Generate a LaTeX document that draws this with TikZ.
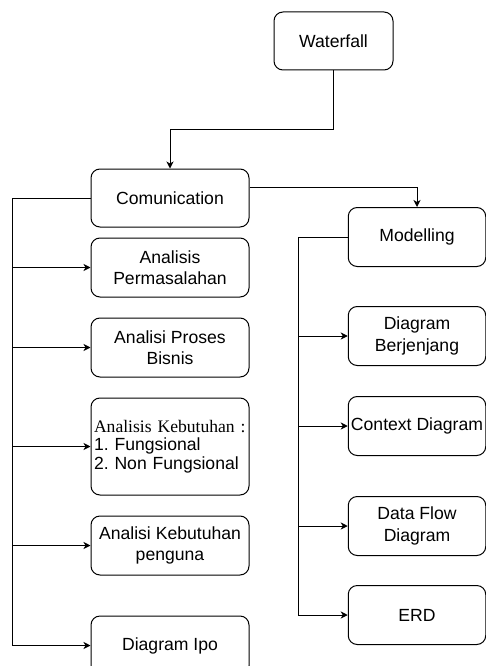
\documentclass[tikz,border=0pt]{standalone}
\usepackage{fontspec}
\setmainfont{Liberation Sans}
\newfontfamily\serifpart{Liberation Serif}
\usetikzlibrary{arrows.meta, positioning}

\begin{document}
\begin{tikzpicture}[
        x=1pt, y=-1pt,
        node distance=20pt,
        stage/.style={rectangle, draw=black, line width=1pt, rounded corners=9pt, minimum width=158pt, minimum height=59pt, align=center, font=\fontsize{17.6}{21.5}\selectfont\frenchspacing},
        substage/.style={stage, minimum width=137.5pt, inner xsep=2pt},
        arrow/.style={-{Stealth[length=7pt, width=7pt, inset=2pt]}, line width=1pt, color=black}
    ]
    \useasboundingbox (0,0) rectangle (486,666);

    % Root
    \node[stage, minimum width=119pt, minimum height=58pt] (waterfall) at (333.5,41) {Waterfall};

    % Communication
    \node[stage, minimum height=58pt] (comm) at (170,198) {Comunication};
    \node[stage] (masalah) [below=10pt of comm] {Analisis\\Permasalahan};
    \node[stage] (proses) [below=of masalah] {Analisi Proses\\Bisnis};
    \node[stage, minimum height=97pt, text width=152pt, inner xsep=3pt, align=left, font=\fontsize{17.6}{18.5}\selectfont\frenchspacing] (kebutuhan) [below=of proses] {{\serifpart Analisis Kebutuhan :}\\1. Fungsional\\2. Non Fungsional};
    \node[stage] (penguna) [below=of kebutuhan] {Analisi Kebutuhan\\penguna};
    \node[stage] (ipo) [below=40pt of penguna] {Diagram Ipo};

    % Modelling
    \node[substage] (modelling) at (417,237) {Modelling};
    \node[substage] (berjenjang) [below=39pt of modelling] {Diagram\\Berjenjang};
    \node[substage] (context) [below=30pt of berjenjang] {Context Diagram};
    \node[substage] (dfd) [below=40pt of context] {Data Flow\\Diagram};
    \node[substage] (erd) [below=29pt of dfd] {ERD};

    % Spines
    \coordinate (lspine) at (12,0);
    \coordinate (rspine) at (298,0);

    % Connections
    \draw[arrow] (waterfall.south) -- ++(0,59) -| (comm.north);
    \draw[arrow] ([yshift=11pt]comm.east) -| (modelling.north);

    \draw[arrow] (comm.west) -- (comm.west -| lspine) |- (ipo.west);
    \foreach \n in {masalah, proses, kebutuhan, penguna}
        \draw[arrow] (\n.west -| lspine) -- (\n.west);

    \draw[arrow] (modelling.west) -- (modelling.west -| rspine) |- (erd.west);
    \foreach \n in {berjenjang, context, dfd}
        \draw[arrow] (\n.west -| rspine) -- (\n.west);

\end{tikzpicture}
\end{document}
